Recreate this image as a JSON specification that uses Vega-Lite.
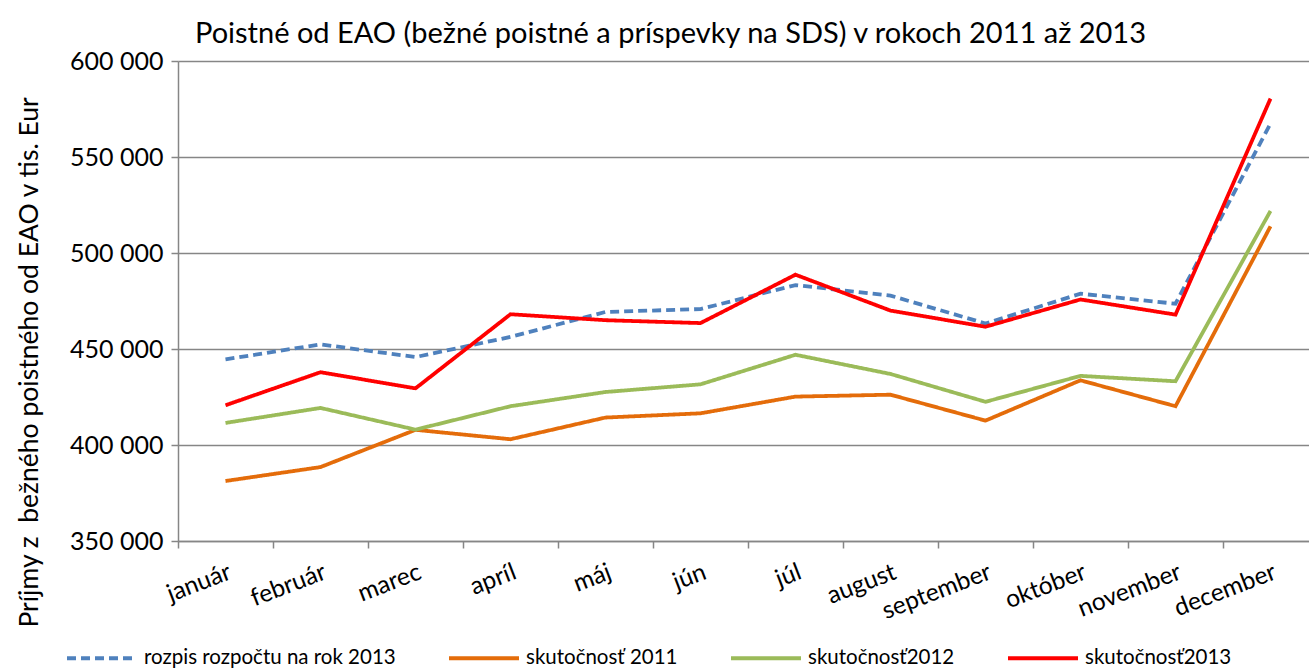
{
  "$schema": "https://vega.github.io/schema/vega-lite/v6.json",
  "width": 1131,
  "height": 480,
  "autosize": {"type": "none"},
  "padding": {"left": 178, "top": 61, "right": 0, "bottom": 127},
  "background": "white",
  "title": {
    "text": "Poistné od EAO (bežné poistné a príspevky na SDS) v rokoch 2011 až 2013",
    "anchor": "start",
    "frame": "group",
    "dx": 17,
    "offset": 0,
    "font": "Lato",
    "fontSize": 29,
    "fontWeight": "normal",
    "color": "#000000"
  },
  "config": {
    "view": {"stroke": null},
    "font": "Lato"
  },
  "data": {
    "values": [
      {"mesiac": "január", "rad": "rozpis rozpočtu na rok 2013", "hodnota": 444600},
      {"mesiac": "február", "rad": "rozpis rozpočtu na rok 2013", "hodnota": 452400},
      {"mesiac": "marec", "rad": "rozpis rozpočtu na rok 2013", "hodnota": 445800},
      {"mesiac": "apríl", "rad": "rozpis rozpočtu na rok 2013", "hodnota": 456300},
      {"mesiac": "máj", "rad": "rozpis rozpočtu na rok 2013", "hodnota": 469300},
      {"mesiac": "jún", "rad": "rozpis rozpočtu na rok 2013", "hodnota": 470800},
      {"mesiac": "júl", "rad": "rozpis rozpočtu na rok 2013", "hodnota": 483300},
      {"mesiac": "august", "rad": "rozpis rozpočtu na rok 2013", "hodnota": 477800},
      {"mesiac": "september", "rad": "rozpis rozpočtu na rok 2013", "hodnota": 463300},
      {"mesiac": "október", "rad": "rozpis rozpočtu na rok 2013", "hodnota": 478800},
      {"mesiac": "november", "rad": "rozpis rozpočtu na rok 2013", "hodnota": 473600},
      {"mesiac": "december", "rad": "rozpis rozpočtu na rok 2013", "hodnota": 567400},
      {"mesiac": "január", "rad": "skutočnosť 2011", "hodnota": 381250},
      {"mesiac": "február", "rad": "skutočnosť 2011", "hodnota": 388500},
      {"mesiac": "marec", "rad": "skutočnosť 2011", "hodnota": 407900},
      {"mesiac": "apríl", "rad": "skutočnosť 2011", "hodnota": 403000},
      {"mesiac": "máj", "rad": "skutočnosť 2011", "hodnota": 414300},
      {"mesiac": "jún", "rad": "skutočnosť 2011", "hodnota": 416500},
      {"mesiac": "júl", "rad": "skutočnosť 2011", "hodnota": 425200},
      {"mesiac": "august", "rad": "skutočnosť 2011", "hodnota": 426200},
      {"mesiac": "september", "rad": "skutočnosť 2011", "hodnota": 412700},
      {"mesiac": "október", "rad": "skutočnosť 2011", "hodnota": 433700},
      {"mesiac": "november", "rad": "skutočnosť 2011", "hodnota": 420200},
      {"mesiac": "december", "rad": "skutočnosť 2011", "hodnota": 513900},
      {"mesiac": "január", "rad": "skutočnosť2012", "hodnota": 411500},
      {"mesiac": "február", "rad": "skutočnosť2012", "hodnota": 419300},
      {"mesiac": "marec", "rad": "skutočnosť2012", "hodnota": 408000},
      {"mesiac": "apríl", "rad": "skutočnosť2012", "hodnota": 420200},
      {"mesiac": "máj", "rad": "skutočnosť2012", "hodnota": 427600},
      {"mesiac": "jún", "rad": "skutočnosť2012", "hodnota": 431600},
      {"mesiac": "júl", "rad": "skutočnosť2012", "hodnota": 447000},
      {"mesiac": "august", "rad": "skutočnosť2012", "hodnota": 437000},
      {"mesiac": "september", "rad": "skutočnosť2012", "hodnota": 422500},
      {"mesiac": "október", "rad": "skutočnosť2012", "hodnota": 436000},
      {"mesiac": "november", "rad": "skutočnosť2012", "hodnota": 433200},
      {"mesiac": "december", "rad": "skutočnosť2012", "hodnota": 521900},
      {"mesiac": "január", "rad": "skutočnosť2013", "hodnota": 420700},
      {"mesiac": "február", "rad": "skutočnosť2013", "hodnota": 437900},
      {"mesiac": "marec", "rad": "skutočnosť2013", "hodnota": 429500},
      {"mesiac": "apríl", "rad": "skutočnosť2013", "hodnota": 468100},
      {"mesiac": "máj", "rad": "skutočnosť2013", "hodnota": 465000},
      {"mesiac": "jún", "rad": "skutočnosť2013", "hodnota": 463500},
      {"mesiac": "júl", "rad": "skutočnosť2013", "hodnota": 488700},
      {"mesiac": "august", "rad": "skutočnosť2013", "hodnota": 470000},
      {"mesiac": "september", "rad": "skutočnosť2013", "hodnota": 461600},
      {"mesiac": "október", "rad": "skutočnosť2013", "hodnota": 475800},
      {"mesiac": "november", "rad": "skutočnosť2013", "hodnota": 467900},
      {"mesiac": "december", "rad": "skutočnosť2013", "hodnota": 580400}
    ]
  },
  "mark": {"type": "line", "strokeWidth": 3.8, "strokeJoin": "miter"},
  "encoding": {
    "x": {
      "field": "mesiac",
      "type": "nominal",
      "sort": ["január", "február", "marec", "apríl", "máj", "jún", "júl", "august", "september", "október", "november", "december"],
      "scale": {"type": "band", "range": [0, 1140], "paddingInner": 0, "paddingOuter": 0},
      "axis": {
        "title": null,
        "labelAngle": -21,
        "labelFont": "Lato",
        "labelFontSize": 24.5,
        "labelColor": "#000000",
        "labelPadding": 12,
        "tickBand": "extent",
        "tickSize": 7,
        "tickColor": "#868686",
        "tickWidth": 1.5,
        "domainColor": "#868686",
        "domainWidth": 1.5,
        "grid": false
      }
    },
    "y": {
      "field": "hodnota",
      "type": "quantitative",
      "scale": {"domain": [350000, 600000], "nice": false, "zero": false},
      "axis": {
        "title": "Príjmy z \u00a0bežného poistného od EAO v tis. Eur",
        "titleFont": "Lato",
        "titleFontSize": 26.5,
        "titleFontWeight": "normal",
        "titleColor": "#000000",
        "titleAngle": -90,
        "titleX": -149,
        "titleY": 301,
        "titleAlign": "center",
        "titleBaseline": "middle",
        "values": [350000, 400000, 450000, 500000, 550000, 600000],
        "labelExpr": "replace(format(datum.value, ','), ',', ' ')",
        "labelFont": "Lato",
        "labelFontSize": 25,
        "labelColor": "#000000",
        "labelPadding": 8,
        "tickSize": 7,
        "tickColor": "#868686",
        "tickWidth": 1.5,
        "domainColor": "#868686",
        "domainWidth": 1.5,
        "grid": true,
        "gridColor": "#868686",
        "gridWidth": 1.5
      }
    },
    "color": {
      "field": "rad",
      "type": "nominal",
      "scale": {
        "domain": ["rozpis rozpočtu na rok 2013", "skutočnosť 2011", "skutočnosť2012", "skutočnosť2013"],
        "range": ["#4F81BD", "#E46C0A", "#9BBB59", "#FF0000"]
      },
      "legend": {
        "title": null,
        "orient": "none",
        "legendX": -113,
        "legendY": 560,
        "direction": "horizontal",
        "columns": 4,
        "columnPadding": 45,
        "symbolType": "stroke",
        "symbolSize": 4900,
        "symbolStrokeWidth": 4,
        "labelFont": "Lato",
        "labelFontSize": 20.5,
        "labelColor": "#000000",
        "labelOffset": 5,
        "labelLimit": 0
      }
    },
    "strokeDash": {
      "field": "rad",
      "type": "nominal",
      "scale": {
        "domain": ["rozpis rozpočtu na rok 2013", "skutočnosť 2011", "skutočnosť2012", "skutočnosť2013"],
        "range": [[9, 5], [1, 0], [1, 0], [1, 0]]
      },
      "legend": null
    }
  }
}
